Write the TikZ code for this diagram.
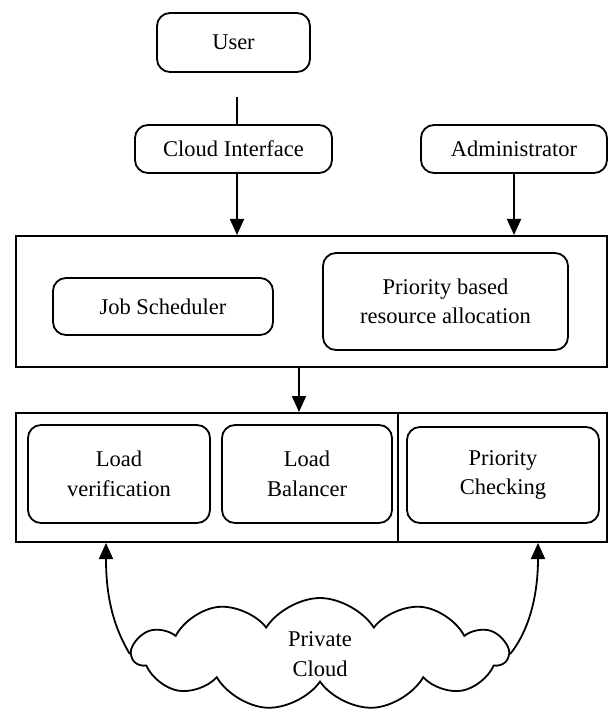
\documentclass[tikz,border=0pt]{standalone}
\usepackage{fontspec}
\setmainfont{Liberation Serif}
\usetikzlibrary{arrows.meta}
\usetikzlibrary{positioning}
\usetikzlibrary{shapes.symbols}
\tikzset{
    block/.style={draw=black, rounded corners=13pt, align=center, inner sep=0pt},
    frame/.style={draw=black, line width=2pt, inner sep=0pt},
    link/.style={draw=black, ->},
    puffcloud/.style={cloud, draw=black, cloud puffs=11, cloud puff arc=115, aspect=3.3, align=center, inner sep=0pt},
}
\tikzset{>={Triangle[length=16pt,width=14pt]}}

\begin{document}
\begin{tikzpicture}[x=1pt, y=-1pt, line width=1.8pt, font=\fontsize{22.5}{29.5}\selectfont]
\useasboundingbox (0,0) rectangle (611,711);
%TOP
\node[block, minimum width=153pt, minimum height=59pt] (user) at (233.5,42.5) {User};
\node[block, minimum width=197pt, minimum height=48pt] (cloudif) at (233.5,149) {Cloud Interface};
\node[block, minimum width=186pt, minimum height=48pt] (admin) at (514,149) {Administrator};
\coordinate (usertail) at (237,97);
\draw (usertail) -- (usertail |- cloudif.north);

%UPPER FRAME
\node[frame, minimum width=591pt, minimum height=131pt] (upper) at (311.5,301.5) {};
\node[block, minimum width=220pt, minimum height=57pt] (sched) at (163,306.5) {Job Scheduler};
\node[block, minimum width=245pt, minimum height=97pt] (alloc) at (445.5,301.5) {Priority based\\resource allocation};
\draw [link] (usertail |- cloudif.south) -- (usertail |- upper.north);
\draw [link] (admin.south) -- (admin.south |- upper.north);

%LOWER FRAME
\node[frame, minimum width=591pt, minimum height=129pt] (lower) at (311.5,477.5) {};
\coordinate (split) at (398,477.5);
\draw [line width=2pt] (split |- lower.north) -- (split |- lower.south);
\node[block, minimum width=182pt, minimum height=98pt] (verif) at (119,474) {Load\\verification};
\node[block, minimum width=170pt, minimum height=98pt] (balance) at (307,474) {Load\\Balancer};
\node[block, minimum width=192pt, minimum height=96pt] (check) at (503,475) {Priority\\Checking};
\coordinate (midtail) at (299,367);
\draw [link] (midtail |- upper.south) -- (midtail |- lower.north);

%PRIVATE CLOUD
\node[puffcloud, minimum width=375pt, minimum height=112pt] (priv) at (320,654) {Private\\Cloud};
\coordinate (verifin) at (106,542);
\coordinate (checkin) at (538,542);
\draw [link] (priv.west) .. controls +(-18,-30) and +(0,50) .. (verifin |- lower.south);
\draw [link] (priv.east) .. controls +(20,-25) and +(0,50) .. (checkin |- lower.south);
\end{tikzpicture}
\end{document}
